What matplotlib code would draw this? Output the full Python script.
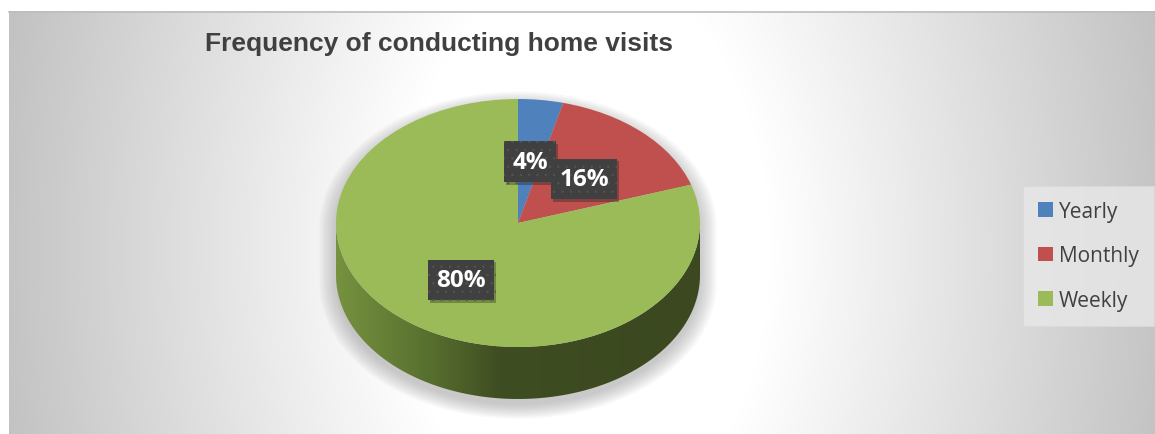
import numpy as np
import matplotlib
matplotlib.use("Agg")
import matplotlib.pyplot as plt
from matplotlib.colors import LinearSegmentedColormap
from matplotlib.patches import Polygon, Patch
import matplotlib.patheffects as pe

# Data
categories = ["Yearly", "Monthly", "Weekly"]
values = [4, 16, 80]
colors = ["#4f81bd", "#c0504d", "#9bbb59"]
title = "Frequency of conducting home visits"

plt.rcParams["hatch.linewidth"] = 0.4

W, H = 1155, 435
fig = plt.figure(figsize=(W / 100, H / 100), dpi=100)

# Background: radial grey gradient in pixel coordinates
ax_bg = fig.add_axes([0, 0, 1, 1])
ax_bg.set_xlim(0, W)
ax_bg.set_ylim(H, 0)
ax_bg.axis("off")
xx, yy = np.meshgrid(np.arange(9, W), np.arange(12, H))
t = np.sqrt(((xx - 585) / 580.0) ** 2 + ((yy - 250) / 900.0) ** 2)
shade = np.clip((t - 0.32) / 0.68, 0, 1.1)
grey = 1.0 - shade * (59 / 255)
ax_bg.imshow(np.dstack([grey, grey, grey]), extent=(9, W, H, 12), aspect="auto",
             interpolation="bilinear", zorder=0)
ax_bg.plot([9, W], [12.5, 12.5], color="#bdbdbd", lw=1.2, zorder=1)

ax_bg.text(205, 44, title, ha="left", va="center", fontsize=19, fontweight="bold",
           color="#404040", family="Liberation Sans")

# Pie axes: unit circle stretched to an ellipse (rx=182px, ry=124px) centred at (518, 224)
cx, cy, rx, ry = 518, 224, 182.0, 124.0
depth = 52 / ry
ax = fig.add_axes([0, 0, 1, 1])
ax.patch.set_alpha(0)

# soft shadow below the cylinder
th_up = np.linspace(0, np.pi, 120)
th_dn = np.linspace(np.pi, 2 * np.pi, 120)
sil = np.vstack([np.column_stack([np.cos(th_up), np.sin(th_up)]),
                 np.column_stack([np.cos(th_dn), np.sin(th_dn) - depth])])
for s in np.linspace(1.09, 1.0, 9):
    pts = sil.copy()
    pts[:, 0] = pts[:, 0] * s
    pts[:, 1] = (pts[:, 1] + depth / 2) * s - depth / 2 - 0.05
    ax.add_patch(Polygon(pts, closed=True, facecolor="#7a7a7a", edgecolor="none",
                         alpha=0.05, zorder=1))

# side wall with horizontal shading
side = np.vstack([np.column_stack([np.cos(th_dn), np.sin(th_dn)]),
                  np.column_stack([np.cos(th_dn[::-1]), np.sin(th_dn[::-1]) - depth])])
side_patch = Polygon(side, closed=True, facecolor="none", edgecolor="none")
ax.add_patch(side_patch)
side_cmap = LinearSegmentedColormap.from_list(
    "side", [(0, "#76923f"), (0.25, "#58702f"), (0.45, "#3f4d22"), (1, "#3b4820")])
grad = np.linspace(0, 1, 256).reshape(1, -1)
im = ax.imshow(grad, cmap=side_cmap, extent=(-1, 1, -1 - depth, 0), aspect="auto",
               zorder=2)
im.set_clip_path(side_patch)

wedges, _ = ax.pie(values, colors=colors, startangle=90, counterclock=False,
                   radius=1, center=(0, 0), wedgeprops=dict(linewidth=0, zorder=3))
for w in wedges:
    w.set_zorder(3)

ax.set_aspect("auto")
ax.set_xlim((0 - cx) / rx, (W - cx) / rx)
ax.set_ylim((cy - H) / ry, cy / ry)
ax.axis("off")

# data labels
cum = np.cumsum([0] + values[:-1])
for v, c0 in zip(values, cum):
    mid = np.deg2rad(90 - (c0 + v / 2) / sum(values) * 360)
    txt = ax.text(0.53 * np.cos(mid), 0.53 * np.sin(mid) - 0.03, f"{v}%", ha="center",
                  va="center", fontsize=17.5, fontweight="bold", color="white",
                  family="Open Sans", zorder=6,
                  bbox=dict(boxstyle="square,pad=0.34", facecolor="#404040",
                            edgecolor="#545454", hatch="..", linewidth=0))
    txt.get_bbox_patch().set_path_effects(
        [pe.SimplePatchShadow(offset=(1.5, -2), alpha=0.3), pe.Normal()])

# legend
handles = [Patch(facecolor=c, edgecolor="none") for c in colors]
leg = fig.legend(handles, categories, loc="upper left",
                 bbox_to_anchor=(1023 / W, 1 - 187 / H), frameon=True, fancybox=False,
                 prop=dict(family="Open Sans", size=15), labelcolor="#404040",
                 handlelength=0.7, handleheight=0.7, handletextpad=0.3,
                 labelspacing=1.12, borderpad=0.72, borderaxespad=0)
leg.get_frame().set_facecolor("#e8e8e8")
leg.get_frame().set_edgecolor("#dadada")
leg.get_frame().set_linewidth(0.8)

fig.savefig("out.png", dpi=100)
